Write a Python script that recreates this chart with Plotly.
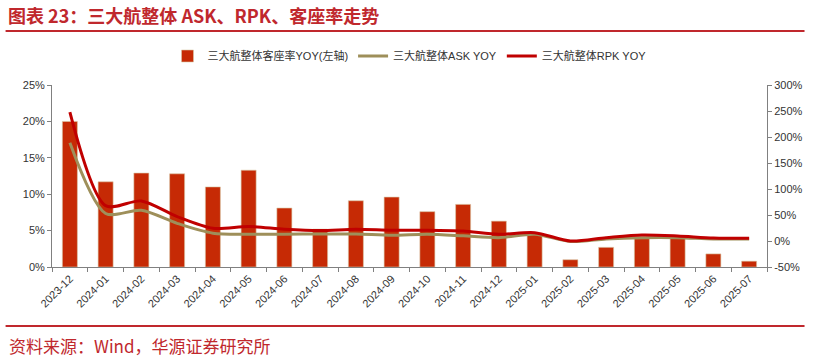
import plotly.graph_objects as go

months = ["2023-12", "2024-01", "2024-02", "2024-03", "2024-04", "2024-05", "2024-06",
          "2024-07", "2024-08", "2024-09", "2024-10", "2024-11", "2024-12", "2025-01",
          "2025-02", "2025-03", "2025-04", "2025-05", "2025-06", "2025-07"]
load_factor_yoy = [20.0, 11.7, 12.9, 12.8, 11.0, 13.3, 8.1, 5.2, 9.1, 9.6,
                   7.6, 8.6, 6.3, 4.6, 1.0, 2.7, 3.9, 4.0, 1.8, 0.8]
ask_yoy = [189, 53, 59, 34, 15, 13, 13, 13.5, 13.5, 11,
           13, 10, 6.4, 13, -1, 4, 6.4, 6.4, 3.9, 4]
rpk_yoy = [248, 68, 77, 47, 24.5, 28, 22.6, 20, 22.6, 20.6,
           20.6, 19, 13, 16, 0, 6.4, 11.6, 9.7, 5.8, 5.2]

left_ticks = [0, 5, 10, 15, 20, 25]
right_ticks = [-50, 0, 50, 100, 150, 200, 250, 300]

fig = go.Figure()
fig.add_trace(go.Bar(
    x=months, y=load_factor_yoy, name="三大航整体客座率YOY(左轴)",
    marker=dict(color="#C62A05", line=dict(color="#D9C9A8", width=0.6)),
    width=0.42, yaxis="y"))
fig.add_trace(go.Scatter(
    x=months, y=ask_yoy, name="三大航整体ASK YOY", mode="lines",
    line=dict(color="#9E8F5A", width=3, shape="spline", smoothing=0.8), yaxis="y2"))
fig.add_trace(go.Scatter(
    x=months, y=rpk_yoy, name="三大航整体RPK YOY", mode="lines",
    line=dict(color="#C00000", width=3, shape="spline", smoothing=0.8), yaxis="y2"))

axis_font = dict(family="Liberation Sans, Arial, sans-serif", size=11, color="#333333")

PW, PH, L, T = 724, 182, 52, 85

fig.update_layout(
    width=815, height=359,
    margin=dict(l=L, r=39, t=T, b=92),
    paper_bgcolor="white", plot_bgcolor="white",
    font=dict(family="Liberation Sans, Noto Sans CJK SC, sans-serif", size=11, color="#333333"),
    showlegend=True,
    legend=dict(orientation="h", x=0.5, xanchor="center", y=1 + (T - 56) / PH, yanchor="middle",
                font=dict(size=11, color="#333333", family="Liberation Sans, Noto Sans CJK SC"),
                bgcolor="rgba(0,0,0,0)"),
    xaxis=dict(type="category", tickangle=-45, showgrid=False, showline=True,
               linecolor="#808080", linewidth=1, ticks="outside", tickson="boundaries",
               ticklen=4, tickcolor="#808080", tickfont=axis_font),
    yaxis=dict(range=[0, 25], tickvals=left_ticks, ticktext=[f"{v}%" for v in left_ticks],
               showgrid=False, showline=True, linecolor="#808080", linewidth=1,
               ticks="outside", ticklen=4, tickcolor="#808080", tickfont=axis_font, zeroline=False),
    yaxis2=dict(range=[-50, 300], tickvals=right_ticks, ticktext=[f"{v}%" for v in right_ticks],
                overlaying="y", side="right", showgrid=False, showline=True,
                linecolor="#808080", linewidth=1, ticks="outside", ticklen=4,
                tickcolor="#808080", tickfont=axis_font, zeroline=False),
)

# Title, separators and source note
fig.add_annotation(text="<b>图表 23：三大航整体 ASK、RPK、客座率走势</b>", xref="paper", yref="paper",
                   x=-(L - 5) / PW, y=1 + (T - 15) / PH, xanchor="left", yanchor="middle", showarrow=False,
                   font=dict(family="Noto Sans CJK SC", size=18, color="#C0282D"))
fig.add_shape(type="line", xref="paper", yref="paper", x0=-(L - 5) / PW, x1=1 + (814 - 776) / PW,
              y0=1 + (T - 31) / PH, y1=1 + (T - 31) / PH, line=dict(color="#C0282D", width=2))
fig.add_shape(type="line", xref="paper", yref="paper", x0=-(L - 5) / PW, x1=1 + (814 - 776) / PW,
              y0=-(326 - 267) / PH, y1=-(326 - 267) / PH, line=dict(color="#C0282D", width=2))
fig.add_annotation(text="资料来源：Wind，华源证券研究所", xref="paper", yref="paper",
                   x=-(L - 6) / PW, y=-(345 - 267) / PH, xanchor="left", yanchor="middle", showarrow=False,
                   font=dict(family="Noto Sans CJK SC", size=17, color="#C0282D"))

fig.write_html("out.html")
